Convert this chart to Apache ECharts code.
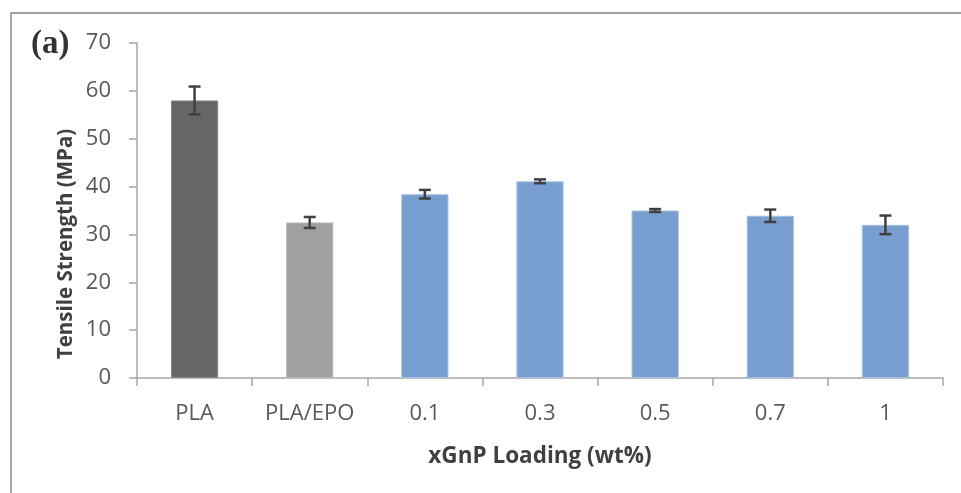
<!DOCTYPE html>
<html>
<head>
<meta charset="utf-8">
<script src="https://cdn.jsdelivr.net/npm/echarts@6/dist/echarts.min.js"></script>
<style>
  html, body { margin: 0; padding: 0; background: #fff; }
  #frame { position: absolute; left: 10px; top: 12px; width: 960px; height: 490px;
           border-left: 2px solid #a8a8a8; border-top: 2px solid #a0a0a0; box-sizing: border-box; }
  #chart { position: absolute; left: 0; top: 0; width: 961px; height: 493px; }
</style>
</head>
<body>
<div id="frame"></div>
<div id="chart"></div>
<script>
// Tensile strength of PLA, PLA/EPO and xGnP-loaded blends
const categories = ['PLA', 'PLA/EPO', '0.1', '0.3', '0.5', '0.7', '1'];
const strength = [58.0, 32.5, 38.4, 41.1, 35.0, 33.9, 32.0];
const strengthError = [2.9, 1.15, 0.9, 0.4, 0.3, 1.3, 1.95];
const barColors = ['#666666', '#a0a0a0', '#779ecf', '#779ecf', '#779ecf', '#779ecf', '#779ecf'];
const barEdges = ['#8a8a8a', '#b8b8b8', '#a6c0e2', '#a6c0e2', '#a6c0e2', '#a6c0e2', '#a6c0e2'];

const chart = echarts.init(document.getElementById('chart'));

const errorData = strength.map((v, i) => [i, v - strengthError[i], v + strengthError[i]]);

chart.setOption({
  animation: false,
  grid: { left: 137, right: 18, top: 43, bottom: 115 },
  graphic: [
    {
      type: 'text', left: 31, top: 28,
      style: { text: '(a)', font: 'bold 33px "Liberation Serif"', fill: '#333333' }
    },
    {
      type: 'text', x: 66, y: 244, rotation: Math.PI / 2,
      style: {
        text: 'Tensile Strength (MPa)', font: 'bold 20.5px "Open Sans"', fill: '#404040',
        align: 'center', verticalAlign: 'middle'
      }
    }
  ],
  xAxis: {
    type: 'category',
    data: categories,
    boundaryGap: true,
    name: 'xGnP Loading (wt%)',
    nameLocation: 'middle',
    nameGap: 67,
    nameTextStyle: { fontFamily: 'Open Sans', fontWeight: 'bold', fontSize: 22.5, color: '#404040' },
    axisLine: { lineStyle: { color: '#a6a6a6', width: 1.5 } },
    axisTick: { show: true, length: 8, lineStyle: { color: '#a6a6a6', width: 1.5 } },
    axisLabel: { interval: 0, fontFamily: 'Open Sans', fontSize: 22, color: '#595959', margin: 25 }
  },
  yAxis: {
    type: 'value',
    min: 0, max: 70, interval: 10,
    axisLine: { show: true, lineStyle: { color: '#a6a6a6', width: 1.5 } },
    axisTick: { show: true, length: 8, lineStyle: { color: '#a6a6a6', width: 1.5 } },
    axisLabel: { fontFamily: 'Open Sans', fontSize: 22, color: '#595959', margin: 26 },
    splitLine: { show: false }
  },
  series: [
    {
      type: 'bar',
      barCategoryGap: '59%',
      data: strength.map((v, i) => ({
        value: v,
        itemStyle: { color: barColors[i], borderColor: barEdges[i], borderWidth: 1 }
      }))
    },
    {
      type: 'custom',
      data: errorData,
      z: 10,
      renderItem: function (params, api) {
        const lo = api.coord([api.value(0), api.value(1)]);
        const hi = api.coord([api.value(0), api.value(2)]);
        const half = 6;
        const style = { stroke: '#404040', lineWidth: 2.5 };
        return {
          type: 'group',
          children: [
            { type: 'line', shape: { x1: hi[0], y1: hi[1], x2: lo[0], y2: lo[1] }, style },
            { type: 'line', shape: { x1: hi[0] - half, y1: hi[1], x2: hi[0] + half, y2: hi[1] }, style },
            { type: 'line', shape: { x1: lo[0] - half, y1: lo[1], x2: lo[0] + half, y2: lo[1] }, style }
          ]
        };
      }
    }
  ]
});
</script>
</body>
</html>
